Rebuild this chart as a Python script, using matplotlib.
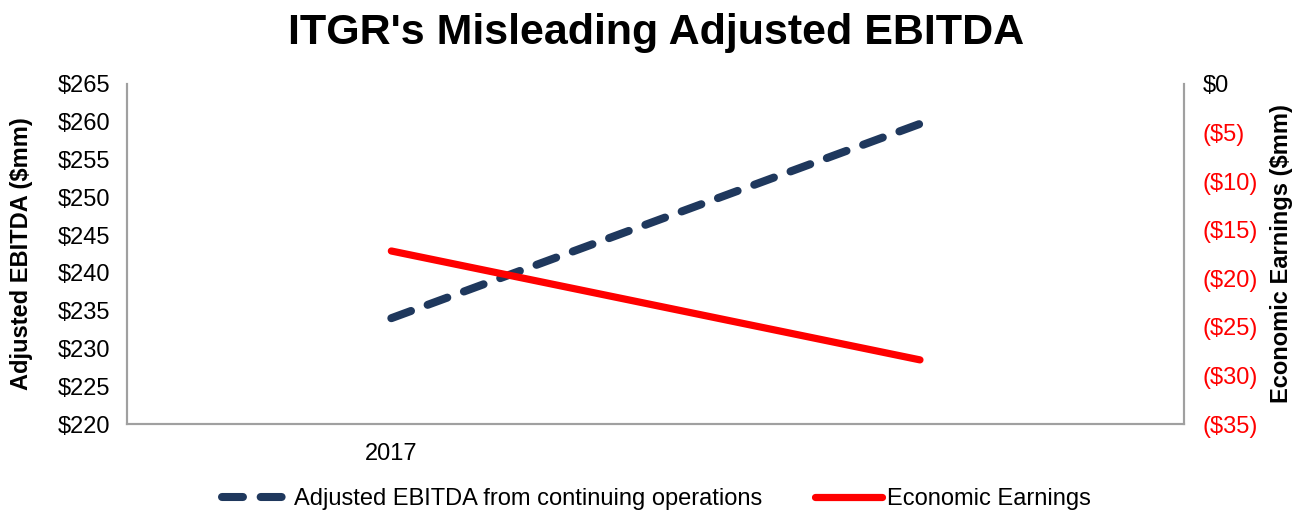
import matplotlib
matplotlib.use("Agg")
import matplotlib.pyplot as plt
from matplotlib.ticker import FuncFormatter, MultipleLocator

categories = ["2017", ""]
adj_ebitda = [234.0, 259.7]
economic_earnings = [-17.2, -28.4]

plt.rcParams['font.family'] = ['Liberation Sans', 'DejaVu Sans']

fig = plt.figure(figsize=(13, 5.14), dpi=100)
ax = fig.add_axes([0.0977, 0.175, 0.8133, 0.662])
ax2 = ax.twinx()

x = list(range(len(categories)))
navy = '#1F385D'
red = '#FF0000'
gray = '#A0A0A0'

l1, = ax.plot(x, adj_ebitda, color=navy, lw=5.8, dashes=(2.6, 2.2),
              dash_capstyle='round', solid_capstyle='round',
              label='Adjusted EBITDA from continuing operations')
l2, = ax2.plot(x, economic_earnings, color=red, lw=5.2, solid_capstyle='round',
               label='Economic Earnings')

ax.set_xlim(-0.5, 1.5)
ax.set_ylim(220, 265)
ax.yaxis.set_major_locator(MultipleLocator(5))
ax.yaxis.set_major_formatter(FuncFormatter(lambda v, p: f"${v:.0f}"))
ax2.set_ylim(-35, 0)
ax2.yaxis.set_major_locator(MultipleLocator(5))
ax2.yaxis.set_major_formatter(FuncFormatter(lambda v, p: f"${v:.0f}" if v >= 0 else f"(${-v:.0f})"))

ax.set_xticks(x)
ax.set_xticklabels(categories)

for a in (ax, ax2):
    a.spines['top'].set_visible(False)
    for s in ('left', 'right', 'bottom'):
        a.spines[s].set_color(gray)
        a.spines[s].set_linewidth(1.5)
    a.tick_params(length=0, labelsize=17)
ax.tick_params(axis='y', pad=12)
ax2.tick_params(axis='y', pad=13)
ax.tick_params(axis='x', pad=14)

for lbl, v in zip(ax2.get_yticklabels(), ax2.get_yticks()):
    lbl.set_color('black' if v >= 0 else red)

ax.set_ylabel("Adjusted EBITDA ($mm)", fontsize=17, fontweight='bold')
ax2.set_ylabel("Economic Earnings ($mm)", fontsize=17, fontweight='bold')
ax.yaxis.set_label_coords(-0.0889, 0.5)
ax2.yaxis.set_label_coords(1.0814, 0.5)

fig.suptitle("ITGR's Misleading Adjusted EBITDA", fontsize=31, fontweight='bold', x=0.505, y=0.975)

fig.legend(handles=[l1, l2], loc='lower center', bbox_to_anchor=(0.505, -0.034), ncol=2,
           frameon=False, fontsize=17, handlelength=2.85, columnspacing=2.2, handletextpad=0.2)

fig.savefig("out.png", dpi=100)
